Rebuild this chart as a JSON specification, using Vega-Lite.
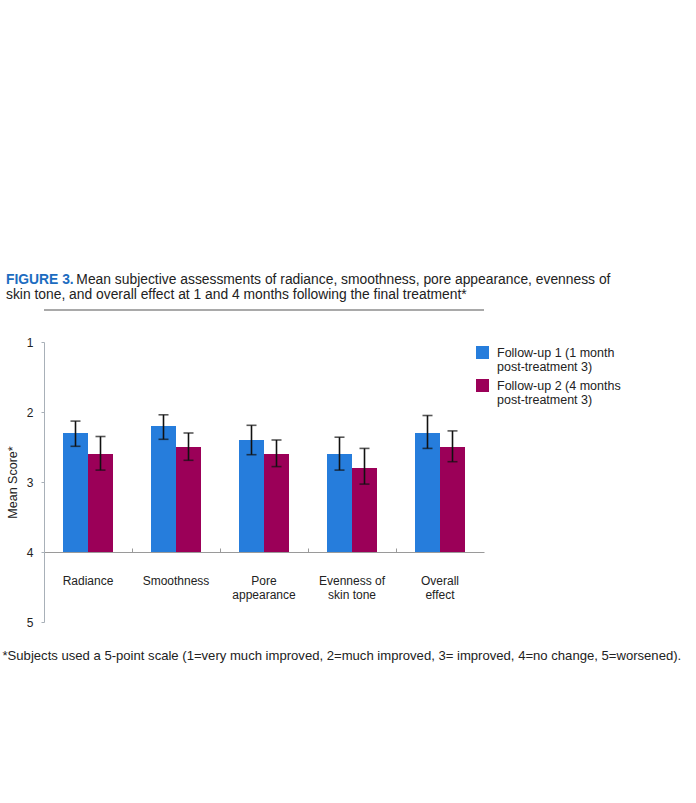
{
  "$schema": "https://vega.github.io/schema/vega-lite/v6.json",
  "width": 440,
  "height": 280,
  "autosize": {"type": "none"},
  "padding": {"left": 44, "top": 342, "right": 212, "bottom": 181},
  "background": "white",
  "config": {"font": "Liberation Sans", "view": {"stroke": null}},
  "title": {
    "text": "FIGURE 3.",
    "subtitle": ["\u200b\u2003\u2003\u2003\u2003\u2003\u200aMean subjective assessments of radiance, smoothness, pore appearance, evenness of", "skin tone, and overall effect at 1 and 4 months following the final treatment*"],
    "anchor": "start",
    "frame": "group",
    "dx": -38,
    "offset": 8,
    "font": "Liberation Sans",
    "fontSize": 13.85,
    "fontWeight": "bold",
    "color": "#1c6cc0",
    "subtitleFont": "Liberation Sans",
    "subtitleFontSize": 13.85,
    "subtitleColor": "#222222",
    "subtitlePadding": -13.85,
    "subtitleLineHeight": 15
  },
  "data": {
    "values": [
      {"cat": "Radiance", "s": "Follow-up 1 (1 month post-treatment 3)", "v": 2.3, "lo": 2.13, "hi": 2.49},
      {"cat": "Radiance", "s": "Follow-up 2 (4 months post-treatment 3)", "v": 2.6, "lo": 2.35, "hi": 2.83},
      {"cat": "Smoothness", "s": "Follow-up 1 (1 month post-treatment 3)", "v": 2.2, "lo": 2.04, "hi": 2.39},
      {"cat": "Smoothness", "s": "Follow-up 2 (4 months post-treatment 3)", "v": 2.5, "lo": 2.3, "hi": 2.69},
      {"cat": "Pore appearance", "s": "Follow-up 1 (1 month post-treatment 3)", "v": 2.4, "lo": 2.19, "hi": 2.61},
      {"cat": "Pore appearance", "s": "Follow-up 2 (4 months post-treatment 3)", "v": 2.6, "lo": 2.4, "hi": 2.78},
      {"cat": "Evenness of skin tone", "s": "Follow-up 1 (1 month post-treatment 3)", "v": 2.6, "lo": 2.36, "hi": 2.83},
      {"cat": "Evenness of skin tone", "s": "Follow-up 2 (4 months post-treatment 3)", "v": 2.8, "lo": 2.52, "hi": 3.03},
      {"cat": "Overall effect", "s": "Follow-up 1 (1 month post-treatment 3)", "v": 2.3, "lo": 2.05, "hi": 2.52},
      {"cat": "Overall effect", "s": "Follow-up 2 (4 months post-treatment 3)", "v": 2.5, "lo": 2.27, "hi": 2.71}
    ]
  },
  "layer": [
    {
      "mark": {"type": "bar"},
      "encoding": {
        "x": {
          "field": "cat",
          "type": "nominal",
          "sort": ["Radiance", "Smoothness", "Pore appearance", "Evenness of skin tone", "Overall effect"],
          "scale": {"paddingInner": 0, "paddingOuter": 0},
          "title": "*Subjects used a 5-point scale (1=very much improved, 2=much improved, 3= improved, 4=no change, 5=worsened).",
          "axis": {
            "offset": -70,
            "domainColor": "#9a9a9a",
            "tickColor": "#9a9a9a",
            "tickSize": -4,
            "bandPosition": 0,
            "labelAngle": 0,
            "labelFontSize": 12,
            "labelColor": "#222222",
            "labelPadding": 27,
            "labelLineHeight": 14.5,
            "labelBaseline": "top",
            "labelExpr": "datum.value == 'Pore appearance' ? ['Pore', 'appearance'] : datum.value == 'Evenness of skin tone' ? ['Evenness of', 'skin tone'] : datum.value == 'Overall effect' ? ['Overall', 'effect'] : datum.value",
            "titleFontSize": 13.1,
            "titleFontWeight": "normal",
            "titleColor": "#222222",
            "titleX": -42,
            "titleY": 97,
            "titleAlign": "left",
            "titleBaseline": "top",
            "titleLimit": 800
          }
        },
        "xOffset": {
          "field": "s",
          "type": "nominal",
          "scale": {"paddingInner": 0, "paddingOuter": 0.76}
        },
        "y": {
          "field": "v",
          "type": "quantitative",
          "title": "Mean Score*",
          "scale": {"domain": [1, 5], "reverse": true, "nice": false, "zero": false},
          "axis": {
            "values": [1, 2, 3, 4, 5],
            "format": "d",
            "grid": false,
            "domainColor": "#a8b0b8",
            "tickColor": "#a8b0b8",
            "tickSize": 3,
            "labelFontSize": 12,
            "labelColor": "#222222",
            "labelPadding": 8,
            "titleFontSize": 12.5,
            "titleFontWeight": "normal",
            "titleColor": "#222222",
            "titlePadding": 7
          }
        },
        "y2": {"datum": 4},
        "color": {
          "field": "s",
          "type": "nominal",
          "scale": {"domain": ["Follow-up 1 (1 month post-treatment 3)", "Follow-up 2 (4 months post-treatment 3)"], "range": ["#267ddc", "#9b0058"]},
          "legend": {
            "orient": "none",
            "legendX": 432,
            "legendY": 4,
            "title": null,
            "padding": 0,
            "labelFontSize": 12.5,
            "labelColor": "#222222",
            "labelLineHeight": 13.5,
            "labelBaseline": "middle",
            "labelOffset": 8,
            "labelLimit": 300,
            "symbolType": "square",
            "symbolSize": 169,
            "symbolStrokeWidth": 0,
            "rowPadding": 5,
            "labelExpr": "datum.value == 'Follow-up 1 (1 month post-treatment 3)' ? ['Follow-up 1 (1 month', 'post-treatment 3)'] : ['Follow-up 2 (4 months', 'post-treatment 3)']"
          }
        }
      }
    },
    {
      "mark": {"type": "rule", "color": "#111111", "strokeWidth": 1.6},
      "encoding": {
        "x": {"field": "cat", "type": "nominal", "sort": ["Radiance", "Smoothness", "Pore appearance", "Evenness of skin tone", "Overall effect"], "title": "*Subjects used a 5-point scale (1=very much improved, 2=much improved, 3= improved, 4=no change, 5=worsened)."},
        "xOffset": {"field": "s", "type": "nominal"},
        "y": {"field": "lo", "type": "quantitative", "title": "Mean Score*"},
        "y2": {"field": "hi"}
      }
    },
    {
      "mark": {"type": "tick", "color": "#111111", "thickness": 1.6, "size": 10},
      "encoding": {
        "x": {"field": "cat", "type": "nominal", "sort": ["Radiance", "Smoothness", "Pore appearance", "Evenness of skin tone", "Overall effect"], "title": "*Subjects used a 5-point scale (1=very much improved, 2=much improved, 3= improved, 4=no change, 5=worsened)."},
        "xOffset": {"field": "s", "type": "nominal"},
        "y": {"field": "lo", "type": "quantitative", "title": "Mean Score*"}
      }
    },
    {
      "mark": {"type": "tick", "color": "#111111", "thickness": 1.6, "size": 10},
      "encoding": {
        "x": {"field": "cat", "type": "nominal", "sort": ["Radiance", "Smoothness", "Pore appearance", "Evenness of skin tone", "Overall effect"], "title": "*Subjects used a 5-point scale (1=very much improved, 2=much improved, 3= improved, 4=no change, 5=worsened)."},
        "xOffset": {"field": "s", "type": "nominal"},
        "y": {"field": "hi", "type": "quantitative", "title": "Mean Score*"}
      }
    },
    {
      "data": {"values": [{"line": "title separator"}]},
      "mark": {"type": "rule", "color": "#555555", "strokeWidth": 1.2},
      "encoding": {
        "y": {"datum": 0.543}
      }
    }
  ]
}
